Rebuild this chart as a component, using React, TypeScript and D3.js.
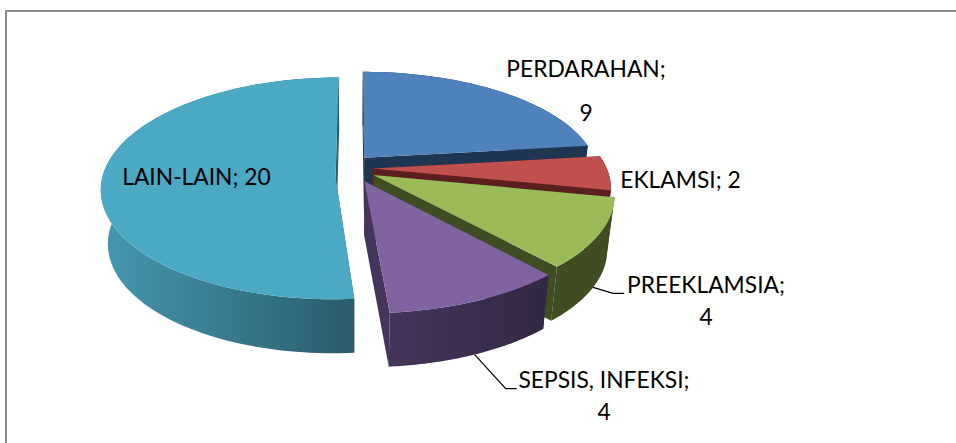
import * as d3 from "d3";

const categories = ["PERDARAHAN", "EKLAMSI", "PREEKLAMSIA", "SEPSIS, INFEKSI", "LAIN-LAIN"];
const values = [9, 2, 4, 4, 20];
const topColors = ["#4f81bd", "#c0504d", "#9bbb59", "#8064a2", "#4ba9c4"];
const wallColors = ["#1f3653", "#5a1f1e", "#404c22", "#332843", "#2a5c6b"];
const wallLight = ["#1f3653", "#5a1f1e", "#404c22", "#45355c", "#4597b0"];
const flatScale = [1, 1, 1, 1, 1.03];
const wideScale = [1, 1, 1, 1, 0.985];
const explodeX = [0.06, 0.075, 0.09, 0.1, 0.082];

const width = 956;
const height = 443;
const cx = 355;
const cy = 168;
const R = 234;
const flat = 104;
const persp = 0.173;
const depth = 54;
const shrink = 0.972;
const explodeY = 0.135;

// plane coords -> screen, with a bit of perspective so the near edge is bigger
function project(u: number, v: number, bottom = false): [number, number] {
  const s = 1 / (1 - persp * v);
  const x = R * u * s;
  const y = flat * v * s;
  return bottom ? [cx + x * shrink, cy + y + depth] : [cx + x, cy + y];
}

const pie = d3.pie<number>().sort(null)(values);

const slices = pie.map((d, i) => {
  const mid = (d.startAngle + d.endAngle) / 2;
  const ox = explodeX[i] * Math.sin(mid);
  const oy = -explodeY * Math.cos(mid);
  const vs = flatScale[i];
  const us = wideScale[i];
  const steps = d3.range(0, 61).map(t => d.startAngle + (d.endAngle - d.startAngle) * t / 60);
  const plane = steps.map(a => [ox + us * Math.sin(a), oy - vs * Math.cos(a)] as [number, number]);
  return { i, mid, ox, oy, vs, us, plane };
});

const line = d3.line();

function leaderStart(i: number): [number, number] {
  const s = slices[i];
  return project(s.ox + s.us * Math.sin(s.mid), s.oy - s.vs * Math.cos(s.mid), true);
}

const labelLines = [
  { i: 0, x: 586, ys: [77, 121], text: [`${categories[0]};`, `${values[0]}`] },
  { i: 1, x: 680.5, ys: [188], text: [`${categories[1]}; ${values[1]}`] },
  { i: 2, x: 706, ys: [293, 325], text: [`${categories[2]};`, `${values[2]}`] },
  { i: 3, x: 604, ys: [388, 420], text: [`${categories[3]};`, `${values[3]}`] },
  { i: 4, x: 196.5, ys: [185], text: [`${categories[4]}; ${values[4]}`] },
];

const leaders = [
  { i: 2, elbow: [20, 6], end: 11 },
  { i: 3, elbow: [31, 34], end: 11 },
];

export default function App() {
  return (
    <svg
      width={width}
      height={height}
      style={{ position: "absolute", left: 0, top: 0, background: "#fff" }}
      fontFamily="Lato, 'Open Sans', sans-serif"
    >
      <defs>
        {slices.map(s => (
          <linearGradient key={s.i} id={`wall${s.i}`} gradientUnits="userSpaceOnUse" x1={s.i === 4 ? 105 : 385} x2={s.i === 4 ? 354 : 545} y1={0} y2={0}>
            <stop offset="0%" stopColor={wallLight[s.i]} />
            <stop offset="100%" stopColor={wallColors[s.i]} />
          </linearGradient>
        ))}
      </defs>

      <path d={`M6,${height}V11H${width}`} fill="none" stroke="#8c8c8c" strokeWidth={2} />

      {slices.map(s => {
        const top = s.plane.map(p => project(p[0], p[1]));
        const low = s.plane.map(p => project(p[0], p[1], true));
        const apexDrop = s.i === 4 ? 0.08 : 0;
        const apexTop = project(s.ox, s.oy + apexDrop);
        const apexLow = project(s.ox, s.oy + apexDrop, true);
        const fill = `url(#wall${s.i})`;
        const wall = [...top, ...[...low].reverse()];
        const first = [apexTop, top[0], low[0], apexLow];
        const last = [apexTop, top[top.length - 1], low[low.length - 1], apexLow];
        return (
          <g key={s.i}>
            <path d={line(first) + "Z"} fill={fill} />
            <path d={line(last) + "Z"} fill={fill} />
            <path d={line(wall) + "Z"} fill={fill} />
            <path d={line([apexTop, ...top]) + "Z"} fill={topColors[s.i]} />
          </g>
        );
      })}

      {leaders.map(l => {
        const a = leaderStart(l.i);
        const b: [number, number] = [a[0] + l.elbow[0], a[1] + l.elbow[1]];
        const c: [number, number] = [b[0] + l.end, b[1]];
        return <path key={l.i} d={line([a, b, c]) ?? ""} fill="none" stroke="#000" strokeWidth={1.2} />;
      })}

      {labelLines.map(l =>
        l.text.map((t, k) => (
          <text key={`${l.i}-${k}`} x={l.x} y={l.ys[k]} textAnchor="middle" fontSize={22.8} fill="#000">
            {t}
          </text>
        ))
      )}
    </svg>
  );
}
